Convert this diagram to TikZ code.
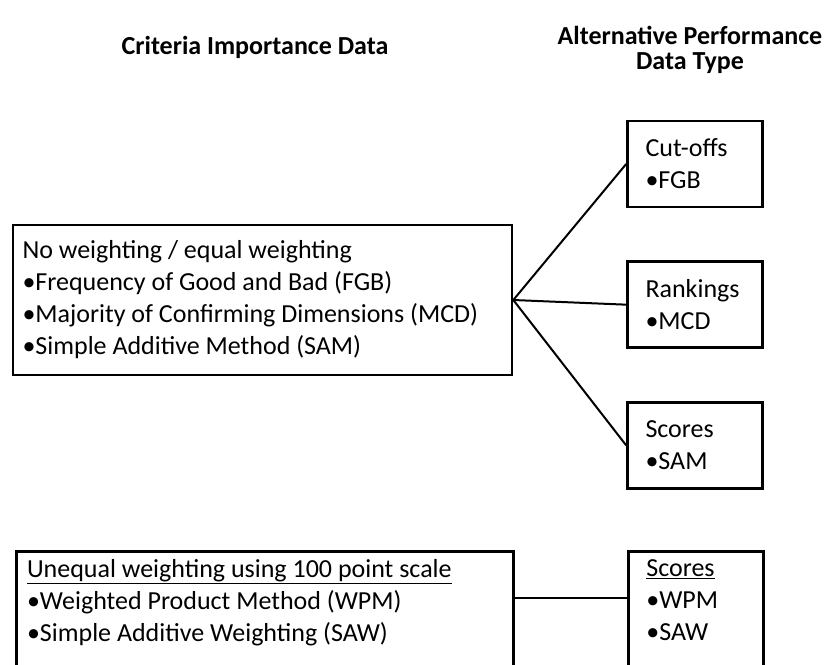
\documentclass[tikz,border=0pt]{standalone}
\usepackage{fontspec}
\setmainfont{Carlito}
\usetikzlibrary{positioning}
\tikzstyle{heading} = [font=\fontsize{19.5}{19}\selectfont\bfseries, align=center]
\tikzstyle{method} = [draw=black, line width=2pt, inner xsep=13.5pt, inner ysep=6pt,
                      font=\fontsize{19.5}{24}\selectfont, align=left]
\tikzstyle{datatype} = [method, text width=74.25pt, minimum height=64.5pt]
\tikzstyle{link} = [line width=1.5pt, draw=black]

\begin{document}
\begin{tikzpicture}[x=0.75pt, y=-0.75pt]
  \useasboundingbox (0,0) rectangle (827,664);
  \clip (0,0) rectangle (827,664);
  % Draw headings
  \node (h1)[heading] at (255,47) {Criteria Importance Data};
  \node (h2)[heading] at (690,50) {Alternative Performance\\Data Type};
  % Draw nodes
  \node (equal)[method, inner xsep=7.1pt, minimum height=112.5pt] at (262.5,300)
       {\parbox{360pt}{No weighting / equal weighting\\
        •Frequency of Good and Bad (FGB)\\
        •Majority of Confirming Dimensions (MCD)\\
        •Simple Additive Method (SAM)}};
  \node (cut)[datatype] at (695,164) {Cut-offs\\•FGB};
  \node (rank)[datatype, below=39pt of cut] {Rankings\\•MCD};
  \node (score)[datatype, below=39pt of rank] {Scores\\•SAM};
  \node (unequal)[method, inner xsep=8pt, anchor=north west] at (15,550)
       {\parbox[t][110pt][t]{356.75pt}{\underline{Unequal weighting using 100 point scale}\\
        •Weighted Product Method (WPM)\\
        •Simple Additive Weighting (SAW)}};
  \node (wscore)[method, anchor=north west] at (627,550)
       {\parbox[t][110pt][t]{74.25pt}{\underline{Scores}\\•WPM\\•SAW}};
  \coordinate (joint) at (570,598);
  % Draw lines
  \draw [link] (equal.east) -- (cut.west);
  \draw [link] (equal.east) -- (rank.west);
  \draw [link] (equal.east) -- (score.west);
  \draw [link] (unequal.east |- joint) -- (wscore.west |- joint);
\end{tikzpicture}
\end{document}
